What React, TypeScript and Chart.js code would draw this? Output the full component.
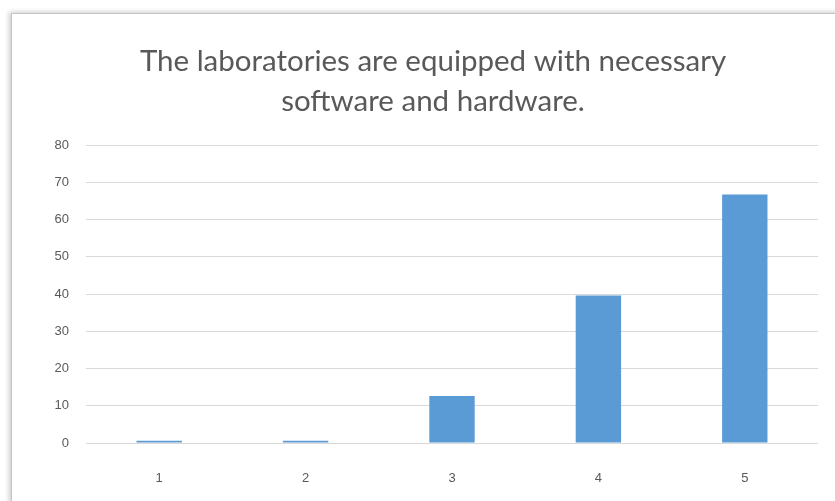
import React, { useEffect, useRef } from "react";
import { Chart, registerables } from "chart.js";

Chart.register(...registerables);

const categories = ["1", "2", "3", "4", "5"];
const values = [0.6, 0.6, 12.6, 39.6, 66.7];
const yTicks = [0, 10, 20, 30, 40, 50, 60, 70, 80];
const titleLines = ["The laboratories are equipped with necessary", "software and hardware."];

export default function App() {
  const ref = useRef<HTMLCanvasElement | null>(null);
  useEffect(() => {
    if (!ref.current) return;
    const chart = new Chart(ref.current, {
      type: "bar",
      data: {
        labels: categories,
        datasets: [
          {
            data: values,
            backgroundColor: "#5B9BD5",
            borderWidth: 0,
            barPercentage: 1,
            categoryPercentage: 0.31,
          },
        ],
      },
      options: {
        animation: false,
        responsive: false,
        layout: { padding: { left: 48, right: 17, top: 0, bottom: 0 } },
        plugins: {
          legend: { display: false },
          tooltip: { enabled: false },
          title: {
            display: true,
            text: titleLines,
            color: "#595959",
            font: { family: "Lato, 'Liberation Sans', sans-serif", size: 29.5, weight: "normal", lineHeight: 40 / 29.5 },
            padding: { top: 41, bottom: 24 },
          },
        },
        scales: {
          x: {
            grid: { display: false, drawTicks: false },
            border: { display: false },
            ticks: {
              color: "#595959",
              font: { family: "'Liberation Sans', sans-serif", size: 13 },
              padding: 28,
            },
            afterFit: (s: any) => {
              s.height = 58;
            },
          },
          y: {
            min: 0,
            max: 80,
            afterBuildTicks: (s: any) => {
              s.ticks = yTicks.map((v) => ({ value: v }));
            },
            grid: { color: "#d9d9d9", lineWidth: 1, drawTicks: false },
            border: { display: false },
            ticks: {
              color: "#595959",
              font: { family: "'Liberation Sans', sans-serif", size: 13 },
              padding: 17,
            },
            afterFit: (s: any) => {
              s.width = 38;
            },
          },
        },
      },
    });
    return () => chart.destroy();
  }, []);
  return (
    <div style={{ position: "fixed", left: 0, top: 0, width: 835, height: 501, background: "#fff", overflow: "hidden" }}>
      <div
        style={{
          position: "absolute",
          left: 11,
          top: 13,
          width: 840,
          height: 500,
          border: "1px solid #c4c4c4",
          boxShadow: "-2px -1px 5px rgba(0,0,0,0.2)",
          background: "#fff",
        }}
      />
      <canvas ref={ref} width={835} height={501} style={{ position: "absolute", left: 0, top: 0 }} />
    </div>
  );
}
